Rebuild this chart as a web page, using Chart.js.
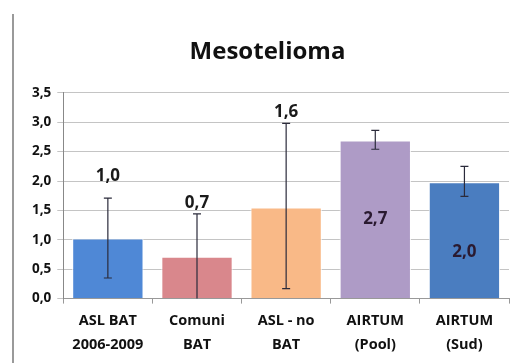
<!DOCTYPE html>
<html>
<head>
<meta charset="utf-8">
<script src="https://cdn.jsdelivr.net/npm/chart.js@4"></script>
<style>
html,body{margin:0;padding:0;background:#fff;}
#wrap{position:relative;width:519px;height:363px;}
#border{position:absolute;left:12px;top:14px;width:2px;height:349px;background:#9a9a9a;}
canvas{position:absolute;left:0;top:0;}
</style>
</head>
<body>
<div id="wrap">
<div id="border"></div>
<canvas id="c" width="519" height="363"></canvas>
</div>
<script>
const categories = [["ASL BAT","2006-2009"],["Comuni","BAT"],["ASL - no","BAT"],["AIRTUM","(Pool)"],["AIRTUM","(Sud)"]];
const values = [1.02, 0.71, 1.55, 2.69, 1.98];
const labels = ["1,0","0,7","1,6","2,7","2,0"];
const errLow = [0.35, 0.0, 0.17, 2.54, 1.74];
const errHigh = [1.71, 1.44, 2.98, 2.86, 2.25];
const yTicks = [0,0.5,1,1.5,2,2.5,3,3.5];

const colors = ['#4f88d6','#d9878c','#f9b987','#ae9bc6','#4a7dc0'];
const labelInside = [false,false,false,true,true];
const labelShift = [-22,-11,-11,0,12];

const errPlugin = {
  id:'err',
  afterDatasetsDraw(chart){
    const ctx = chart.ctx, y = chart.scales.y;
    const meta = chart.getDatasetMeta(0);
    ctx.save();
    ctx.strokeStyle = '#2b2b3b';
    ctx.lineWidth = 1.2;
    meta.data.forEach((bar,i)=>{
      const x = bar.x, yt = y.getPixelForValue(errHigh[i]), yb = y.getPixelForValue(errLow[i]);
      ctx.beginPath();
      ctx.moveTo(x,yt); ctx.lineTo(x,yb);
      ctx.moveTo(x-4,yt); ctx.lineTo(x+4,yt);
      if (errLow[i] > 0){ ctx.moveTo(x-4,yb); ctx.lineTo(x+4,yb); }
      ctx.stroke();
    });
    ctx.font = 'bold 17px "Open Sans", sans-serif';
    ctx.textAlign = 'center';
    ctx.textBaseline = 'middle';
    meta.data.forEach((bar,i)=>{
      let py;
      if (labelInside[i]) py = (bar.y + bar.base)/2 + labelShift[i];
      else py = y.getPixelForValue(errHigh[i]) + labelShift[i];
      ctx.fillStyle = labelInside[i] ? '#2a1a30' : '#1a1a1a';
      ctx.fillText(labels[i], bar.x, py);
    });
    ctx.restore();
  }
};

new Chart(document.getElementById('c'), {
  type:'bar',
  data:{
    labels: categories,
    datasets:[{
      data: values,
      backgroundColor: colors,
      borderColor: 'rgba(255,255,255,0.9)',
      borderWidth: 1,
      barPercentage: 0.8,
      categoryPercentage: 1.0
    }]
  },
  options:{
    responsive:false,
    animation:false,
    layout:{padding:{left:26,right:10,top:38,bottom:1}},
    plugins:{
      legend:{display:false},
      tooltip:{enabled:false},
      title:{display:true,text:'Mesotelioma',color:'#111',
        font:{family:'"Open Sans", sans-serif',size:24,weight:'bold'},
        padding:{top:0,bottom:26}}
    },
    scales:{
      x:{
        grid:{display:true,drawOnChartArea:false,drawTicks:true,tickLength:5,color:'#999',offset:true},
        border:{color:'#999'},
        ticks:{color:'#111',font:{family:'"Open Sans", sans-serif',size:14.5,weight:'bold',lineHeight:1.6},padding:6,maxRotation:0}
      },
      y:{
        min:0,max:3.5,
        afterBuildTicks(s){ s.ticks = yTicks.map(v=>({value:v})); },
        grid:{color:'#c4c4c4',tickLength:6,drawTicks:true},
        border:{color:'#888'},
        ticks:{color:'#111',font:{family:'"Open Sans", sans-serif',size:13.5,weight:'bold'},padding:6,
          callback:(v)=>v.toFixed(1).replace('.',',')}
      }
    }
  },
  plugins:[errPlugin]
});
</script>
</body>
</html>
